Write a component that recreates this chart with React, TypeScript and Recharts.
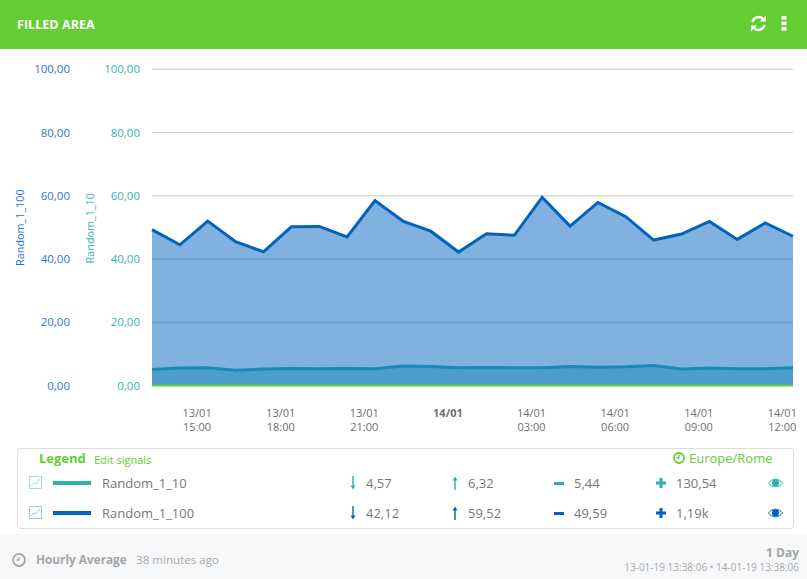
import React from 'react';
import { AreaChart, Area, XAxis, YAxis, CartesianGrid } from 'recharts';

const GREEN = '#62ce33';
const TEAL = '#2eb0ac';
const BLUE = '#0263bf';
const FONT = '"Open Sans", sans-serif';

// hours since 13/01 00:00
const hours = [13.4, 14.4, 15.4, 16.4, 17.4, 18.4, 19.4, 20.4, 21.4, 22.4, 23.4, 24.4, 25.4, 26.4, 27.4, 28.4, 29.4, 30.4, 31.4, 32.4, 33.4, 34.4, 35.4, 36.4];
const random10 = [5.1, 5.5, 5.6, 4.8, 5.2, 5.4, 5.3, 5.4, 5.3, 6.2, 6.0, 5.6, 5.7, 5.6, 5.6, 6.0, 5.8, 5.9, 6.3, 5.2, 5.5, 5.3, 5.3, 5.6];
const random100 = [49.3, 44.5, 52.0, 45.5, 42.3, 50.2, 50.3, 47.0, 58.5, 52.0, 48.8, 42.2, 48.0, 47.5, 59.5, 50.4, 57.9, 53.4, 46.0, 47.9, 51.9, 46.2, 51.4, 47.2];

const xTicks = [15, 18, 21, 24, 27, 30, 33, 36];
const xLabels = [['13/01', '15:00'], ['13/01', '18:00'], ['13/01', '21:00'], ['14/01', ''], ['14/01', '03:00'], ['14/01', '06:00'], ['14/01', '09:00'], ['14/01', '12:00']];
const yTicks = [0, 20, 40, 60, 80, 100];

const legendNames = ['Random_1_10', 'Random_1_100'];
const legendColors = [TEAL, BLUE];
const legendIconColors = ['#a5dedb', '#9cc5ec'];
const legendMin = ['4,57', '42,12'];
const legendMax = ['6,32', '59,52'];
const legendAvg = ['5,44', '49,59'];
const legendSum = ['130,54', '1,19k'];

const data = hours.map((t, i) => ({ t, a: random10[i], b: random100[i] }));
const fmt = (v: number) => v.toFixed(2).replace('.', ',');

function TimeTick({ x, y, payload }: any) {
  const idx = xTicks.indexOf(payload.value);
  const [d, h] = xLabels[idx];
  const bold = h === '';
  const common = { textAnchor: 'middle' as const, fontFamily: FONT, fontSize: 11, fill: '#6e6e6e' };
  return (
    <g>
      <text x={x + 0.5} y={y + 23.5} {...common} fontWeight={bold ? 700 : 400}>{d}</text>
      {h && <text x={x + 0.5} y={y + 37} {...common}>{h}</text>}
    </g>
  );
}

function Txt({ x, y, right, size = 12, color = '#777', bold, children }: any) {
  const pos: any = right !== undefined ? { right } : { left: x };
  return (
    <span style={{ position: 'absolute', ...pos, top: y, transform: 'translateY(-50%)', fontFamily: FONT, fontSize: size, color, fontWeight: bold ? 700 : 400, whiteSpace: 'nowrap', lineHeight: 1 }}>
      {children}
    </span>
  );
}

function Ico({ x, y, w, h, children }: any) {
  return (
    <svg style={{ position: 'absolute', left: x, top: y }} width={w} height={h} viewBox={`0 0 ${w} ${h}`}>
      {children}
    </svg>
  );
}

function Clock({ x, y, color, size = 12 }: any) {
  const c = size / 2;
  return (
    <Ico x={x} y={y} w={size} h={size}>
      <circle cx={c} cy={c} r={c - 1} fill="none" stroke={color} strokeWidth={1.8} />
      <path d={`M${c} ${c - 3}V${c}H${c - 2.5}`} fill="none" stroke={color} strokeWidth={1.3} />
    </Ico>
  );
}

function LegendRow({ i, y }: { i: number; y: number }) {
  const color = legendColors[i];
  const light = legendIconColors[i];
  return (
    <>
      <Ico x={29} y={y - 7} w={13} h={13}>
        <rect x={0.5} y={0.5} width={12} height={12} fill="none" stroke={light} />
        <path d="M1.5 10L5 7L7 8L11 3" fill="none" stroke={light} />
      </Ico>
      <div style={{ position: 'absolute', left: 53, top: y - 2, width: 38, height: 4, background: color }} />
      <Txt x={102} y={y} size={13}>{legendNames[i]}</Txt>
      <Ico x={349} y={y - 7} w={8} h={14}>
        <path d="M4 0V10" stroke={color} strokeWidth={1.4} />
        <path d="M1.5 9.5L4 13.5L6.5 9.5Z" fill={color} />
      </Ico>
      <Txt x={366} y={y} size={13}>{legendMin[i]}</Txt>
      <Ico x={451} y={y - 7} w={8} h={14}>
        <path d="M4 14V4" stroke={color} strokeWidth={1.4} />
        <path d="M1.5 4.5L4 0.5L6.5 4.5Z" fill={color} />
      </Ico>
      <Txt x={468} y={y} size={13}>{legendMax[i]}</Txt>
      <div style={{ position: 'absolute', left: 554, top: y - 1.5, width: 10, height: 3, background: color }} />
      <Txt x={574} y={y} size={13}>{legendAvg[i]}</Txt>
      <Ico x={656} y={y - 5} w={10} h={10}>
        <path d="M5 0V10M0 5H10" stroke={color} strokeWidth={3} />
      </Ico>
      <Txt x={676} y={y} size={13}>{legendSum[i]}</Txt>
      <Ico x={768} y={y - 5} w={15} h={10}>
        <path d="M0.5 5C4 0 11 0 14.5 5C11 10 4 10 0.5 5Z" fill="none" stroke={color} />
        <circle cx={7.5} cy={4.8} r={3.6} fill={color} />
      </Ico>
    </>
  );
}

export default function App() {
  return (
    <div style={{ position: 'absolute', left: 0, top: 0, width: 807, height: 579, overflow: 'hidden', background: '#fff' }}>
      <div style={{ position: 'absolute', left: 0, top: 0, width: 807, height: 49, background: GREEN }} />
      <Txt x={17} y={24.5} size={12.6} color="#fff" bold>FILLED AREA</Txt>
      <Ico x={750} y={15} w={17} h={17}>
        <path d="M2.5 7A6.2 6.2 0 0 1 13 4M14.5 10A6.2 6.2 0 0 1 4 13" fill="none" stroke="#fff" strokeWidth={2.4} />
        <path d="M16 0.5V6.5H10ZM1 16.5V10.5H7Z" fill="#fff" />
      </Ico>
      <Ico x={781} y={15} w={6} h={16}>
        <rect x={0.5} y={1} width={5} height={3.6} fill="#fff" />
        <rect x={0.5} y={6.6} width={5} height={3.6} fill="#fff" />
        <rect x={0.5} y={12} width={5} height={3.6} fill="#fff" />
      </Ico>

      <div style={{ position: 'absolute', left: 0, top: 49 }}>
        <AreaChart width={807} height={395} data={data} margin={{ top: 20.3, right: 14, bottom: 0, left: 12 }}>
          <CartesianGrid yAxisId="axis100" vertical={false} stroke="#ccc" syncWithTicks />
          <XAxis
            dataKey="t"
            type="number"
            domain={[13.4, 36.4]}
            ticks={xTicks}
            interval={0}
            height={58.5}
            tick={<TimeTick />}
            tickLine={false}
            axisLine={{ stroke: GREEN, strokeWidth: 2 }}
          />
          <YAxis
            yAxisId="axis10"
            width={70}
            domain={[0, 100]}
            ticks={yTicks}
            tickFormatter={fmt}
            tickLine={false}
            tickSize={0}
            tickMargin={12}
            axisLine={false}
            tick={{ fontFamily: FONT, fontSize: 11.5, fill: '#38b3ad' }}
            label={{ value: 'Random_1_10', angle: -90, position: 'insideLeft', dx: 3, dy: 36, style: { fontFamily: FONT, fontSize: 10.8, fill: '#38b3ad' } }}
          />
          <YAxis
            yAxisId="axis100"
            width={70}
            domain={[0, 100]}
            ticks={yTicks}
            tickFormatter={fmt}
            tickLine={false}
            tickSize={0}
            tickMargin={12}
            axisLine={false}
            tick={{ fontFamily: FONT, fontSize: 11.5, fill: '#2a78cc' }}
            label={{ value: 'Random_1_100', angle: -90, position: 'insideLeft', dx: 3, dy: 38.5, style: { fontFamily: FONT, fontSize: 10.8, fill: '#1f74c8' } }}
          />
          <Area yAxisId="axis10" dataKey="a" type="linear" stroke={TEAL} strokeWidth={3} fill={TEAL} fillOpacity={0.5} isAnimationActive={false} dot={false} activeDot={false} />
          <Area yAxisId="axis100" dataKey="b" type="linear" stroke={BLUE} strokeWidth={3} fill={BLUE} fillOpacity={0.5} isAnimationActive={false} dot={false} activeDot={false} />
        </AreaChart>
      </div>

      <div style={{ position: 'absolute', left: 17, top: 448, width: 775, height: 79, border: '1px solid #ddd', borderRadius: 4 }} />
      <Txt x={39} y={458} size={13} color={GREEN} bold>Legend</Txt>
      <Txt x={94} y={459} size={11} color={GREEN}>Edit signals</Txt>
      <Clock x={673} y={452} color={GREEN} size={12} />
      <Txt x={689} y={458} size={13} color={GREEN}>Europe/Rome</Txt>
      <LegendRow i={0} y={483} />
      <LegendRow i={1} y={513} />

      <div style={{ position: 'absolute', left: 0, top: 534, width: 807, height: 45, background: '#f6f8fa' }} />
      <Clock x={12} y={553} color="#aaa" size={14} />
      <Txt x={36} y={560} size={11.8} color="#a5a5a5" bold>Hourly Average</Txt>
      <Txt x={136} y={560} size={11.6} color="#aaa">38 minutes ago</Txt>
      <Txt right={8} y={553} size={12} color="#a5a5a5" bold>1 Day</Txt>
      <Txt right={8} y={567} size={10} color="#aaa">13-01-19 13:38:06 • 14-01-19 13:38:06</Txt>
    </div>
  );
}
